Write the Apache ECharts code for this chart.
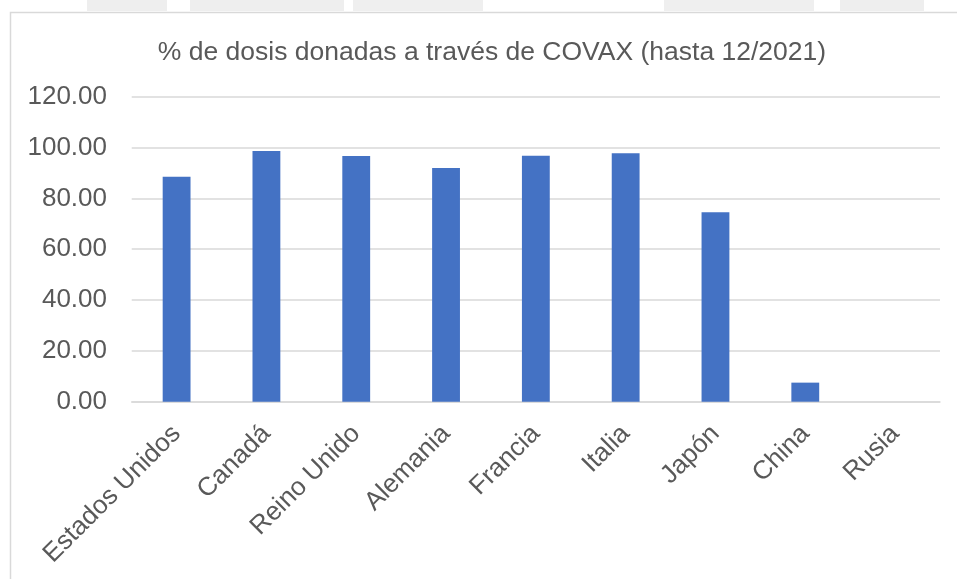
<!DOCTYPE html>
<html>
<head>
<meta charset="utf-8">
<script src="https://cdn.jsdelivr.net/npm/echarts@6/dist/echarts.min.js"></script>
<style>
  html, body { margin: 0; padding: 0; background: #ffffff; }
  #chart { width: 957px; height: 579px; }
</style>
</head>
<body>
<div id="chart"></div>
<script>
// Countries and share of donated doses delivered through COVAX (%)
const countries = ['Estados Unidos', 'Canadá', 'Reino Unido', 'Alemania', 'Francia', 'Italia', 'Japón', 'China', 'Rusia'];
const covaxShare = [88.5, 98.6, 96.7, 91.9, 96.8, 97.8, 74.5, 7.5, 0];
const yTicks = [0, 20, 40, 60, 80, 100, 120];

const textColor = '#595959';
const gridColor = '#d9d9d9';
const fontFamily = '"Liberation Sans", Arial, sans-serif';

const chart = echarts.init(document.getElementById('chart'), null, { renderer: 'canvas' });

chart.setOption({
  backgroundColor: '#ffffff',
  animation: false,
  title: {
    text: '% de dosis donadas a través de COVAX (hasta 12/2021)',
    left: 487,
    textAlign: 'center',
    top: 34,
    textStyle: { color: textColor, fontSize: 26.5, fontWeight: 'normal', fontFamily: fontFamily }
  },
  graphic: [
    // faint shapes above the chart frame
    { type: 'rect', silent: true, z: -1, shape: { x: 87, y: 0, width: 80, height: 11 }, style: { fill: '#eeeeee' } },
    { type: 'rect', silent: true, z: -1, shape: { x: 190, y: 0, width: 154, height: 11 }, style: { fill: '#eeeeee' } },
    { type: 'rect', silent: true, z: -1, shape: { x: 353, y: 0, width: 130, height: 11 }, style: { fill: '#efefef' } },
    { type: 'rect', silent: true, z: -1, shape: { x: 664, y: 0, width: 150, height: 11 }, style: { fill: '#efefef' } },
    { type: 'rect', silent: true, z: -1, shape: { x: 840, y: 0, width: 84, height: 11 }, style: { fill: '#eeeeee' } },
    // chart frame
    {
      type: 'rect', silent: true, z: 0,
      shape: { x: 10.5, y: 12.5, width: 990, height: 620 },
      style: { fill: '#ffffff', stroke: gridColor, lineWidth: 1.5 }
    }
  ],
  grid: { left: 131.7, right: 17, top: 96.7, bottom: 177.3, containLabel: false },
  xAxis: {
    type: 'category',
    data: countries,
    axisLine: { show: true, lineStyle: { color: gridColor, width: 1.5 } },
    axisTick: { show: false },
    axisLabel: {
      rotate: 45,
      margin: 28,
      interval: 0,
      color: textColor,
      fontSize: 26,
      fontFamily: fontFamily
    }
  },
  yAxis: {
    type: 'value',
    min: yTicks[0],
    max: yTicks[yTicks.length - 1],
    interval: yTicks[1] - yTicks[0],
    axisLine: { show: false },
    axisTick: { show: false },
    splitLine: { show: true, lineStyle: { color: gridColor, width: 1.5 } },
    axisLabel: {
      margin: 24.7,
      color: textColor,
      fontSize: 26,
      fontFamily: fontFamily,
      formatter: v => v.toFixed(2)
    }
  },
  series: [{
    type: 'bar',
    data: covaxShare,
    barWidth: '31%',
    itemStyle: { color: '#4472c4' }
  }]
});
</script>
</body>
</html>
